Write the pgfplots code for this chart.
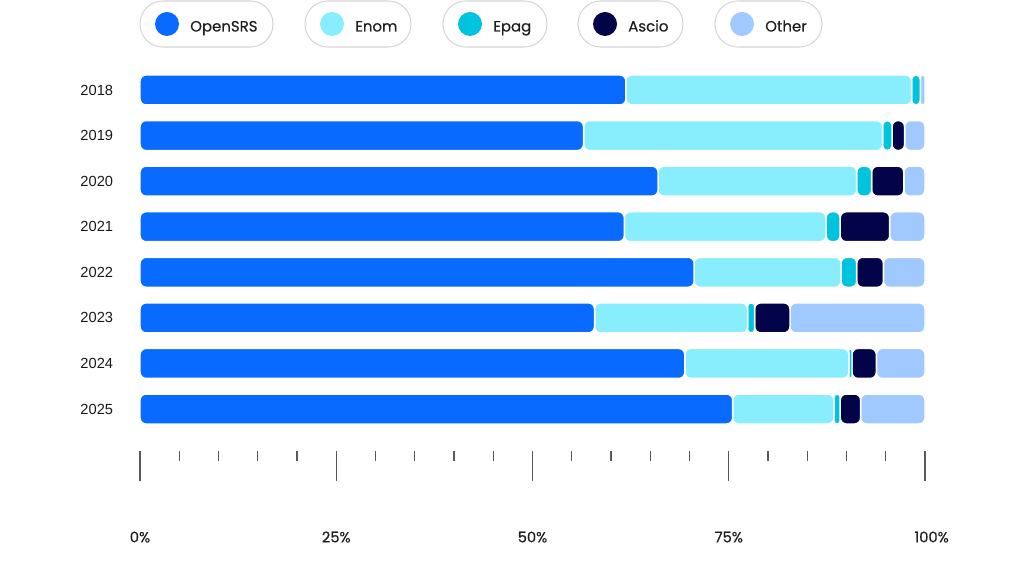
\documentclass[border=0pt]{standalone}
\usepackage{fontspec}
\setmainfont{Liberation Sans}
\newfontfamily\pop[FakeBold=0.5]{Poppins}
\usepackage{pgfplots}
\pgfplotsset{compat=1.18}

\definecolor{cOpen}{HTML}{086AFF}
\definecolor{cEnom}{HTML}{88EEFD}
\definecolor{cEpag}{HTML}{00C4DE}
\definecolor{cAscio}{HTML}{020348}
\definecolor{cOther}{HTML}{A0C9FF}
\definecolor{pillgray}{HTML}{D6D6D6}

% rounded bar segments: radius clamped to half the segment size
\makeatletter
\let\orig@pgfpathrectangle\pgfpathrectangle
\def\barradius{}
\newdimen\rr@xa \newdimen\rr@ya \newdimen\rr@xb \newdimen\rr@yb
\newdimen\rr@r \newdimen\rr@t
\def\pgfpathrectangle#1#2{%
  \ifx\barradius\empty
    \orig@pgfpathrectangle{#1}{#2}%
  \else
    \pgf@process{#1}\rr@xa=\pgf@x \rr@ya=\pgf@y
    \pgf@process{#2}%
    \rr@xb=\rr@xa \advance\rr@xb by\pgf@x
    \rr@yb=\rr@ya \advance\rr@yb by\pgf@y
    \ifdim\rr@xb<\rr@xa \rr@t=\rr@xa \rr@xa=\rr@xb \rr@xb=\rr@t \fi
    \ifdim\rr@yb<\rr@ya \rr@t=\rr@ya \rr@ya=\rr@yb \rr@yb=\rr@t \fi
    \rr@r=\barradius
    \rr@t=\rr@xb \advance\rr@t by-\rr@xa \divide\rr@t by 2
    \ifdim\rr@t<\rr@r \rr@r=\rr@t \fi
    \rr@t=\rr@yb \advance\rr@t by-\rr@ya \divide\rr@t by 2
    \ifdim\rr@t<\rr@r \rr@r=\rr@t \fi
    \pgfpathmoveto{\pgfqpoint{\dimexpr\rr@xa+\rr@r\relax}{\rr@ya}}%
    \pgfpathlineto{\pgfqpoint{\dimexpr\rr@xb-\rr@r\relax}{\rr@ya}}%
    \pgfpatharc{-90}{0}{\rr@r}%
    \pgfpathlineto{\pgfqpoint{\rr@xb}{\dimexpr\rr@yb-\rr@r\relax}}%
    \pgfpatharc{0}{90}{\rr@r}%
    \pgfpathlineto{\pgfqpoint{\dimexpr\rr@xa+\rr@r\relax}{\rr@yb}}%
    \pgfpatharc{90}{180}{\rr@r}%
    \pgfpathlineto{\pgfqpoint{\rr@xa}{\dimexpr\rr@ya+\rr@r\relax}}%
    \pgfpatharc{180}{270}{\rr@r}%
    \pgfpathclose
  \fi}
\makeatother

\begin{document}
\begin{tikzpicture}[x=0.75pt, y=0.75pt]
\path[use as bounding box] (0,0) rectangle (1024,575);

\def\barradius{4.5pt}
\begin{axis}[
    at={(105pt,93pt)}, anchor=south west,
    scale only axis,
    width=588.75pt, height=287.85pt,
    xbar stacked,
    bar width=22.5pt,
    clip=false,
    xmin=0, xmax=100,
    ymin=-0.921, ymax=7.5,
    axis x line*=bottom,
    axis y line*=left,
    x axis line style={draw=none},
    y axis line style={draw=none},
    xtick={0,25,50,75,100},
    xticklabels={0\%,25\%,50\%,75\%,\hspace*{10pt}100\%},
    minor xtick={5,10,15,20,30,35,40,45,55,60,65,70,80,85,90,95},
    tick align=outside,
    major tick length=22.5pt,
    minor tick length=7.5pt,
    xtick style={draw=black!65, line width=0.9pt},
    xticklabel style={font=\pop\fontsize{11}{12}\selectfont, text=black!88,
        anchor=base, yshift=-46pt},
    ytick={0,1,2,3,4,5,6,7},
    yticklabels={2025,2024,2023,2022,2021,2020,2019,2018},
    ytick style={draw=none},
    yticklabel style={font=\fontsize{11}{12}\selectfont, text=black!90,
        anchor=east, inner sep=0pt, xshift=2.5pt},
    every axis plot/.append style={draw=white, line width=1.1pt},
]
% OpenSRS
\addplot[fill=cOpen] coordinates {
  (75.5,0) (69.4,1) (57.9,2) (70.6,3) (61.7,4) (66.0,5) (56.5,6) (61.9,7)};
% Enom
\addplot[fill=cEnom] coordinates {
  (12.9,0) (20.9,1) (19.5,2) (18.7,3) (25.7,4) (25.3,5) (38.1,6) (36.4,7)};
% Epag
\addplot[fill=cEpag] coordinates {
  (0.8,0) (0.4,1) (0.9,2) (2.0,3) (1.8,4) (1.9,5) (1.2,6) (1.1,7)};
% Ascio
\addplot[fill=cAscio] coordinates {
  (2.6,0) (3.1,1) (4.5,2) (3.4,3) (6.3,4) (4.1,5) (1.6,6) (0,7)};
% Other
\addplot[fill=cOther] coordinates {
  (8.2,0) (6.2,1) (17.2,2) (5.3,3) (4.5,4) (2.7,5) (2.6,6) (0.6,7)};
\end{axis}
\def\barradius{}

% legend pills
\foreach \xl/\xr/\col/\name in {140/273/cOpen/OpenSRS, 305/411/cEnom/Enom,
    443/547/cEpag/Epag, 578/683/cAscio/Ascio, 715/822/cOther/Other}{
  \draw[pillgray, line width=0.8pt, rounded corners=17pt] (\xl,528) rectangle (\xr,574);
  \fill[\col] (\xl+27,551) circle (12);
  \node[anchor=base west, inner sep=0pt, text=black!88,
        font=\pop\fontsize{11.2}{13}\selectfont] at (\xl+50,543.5) {\name};
}
\end{tikzpicture}
\end{document}
